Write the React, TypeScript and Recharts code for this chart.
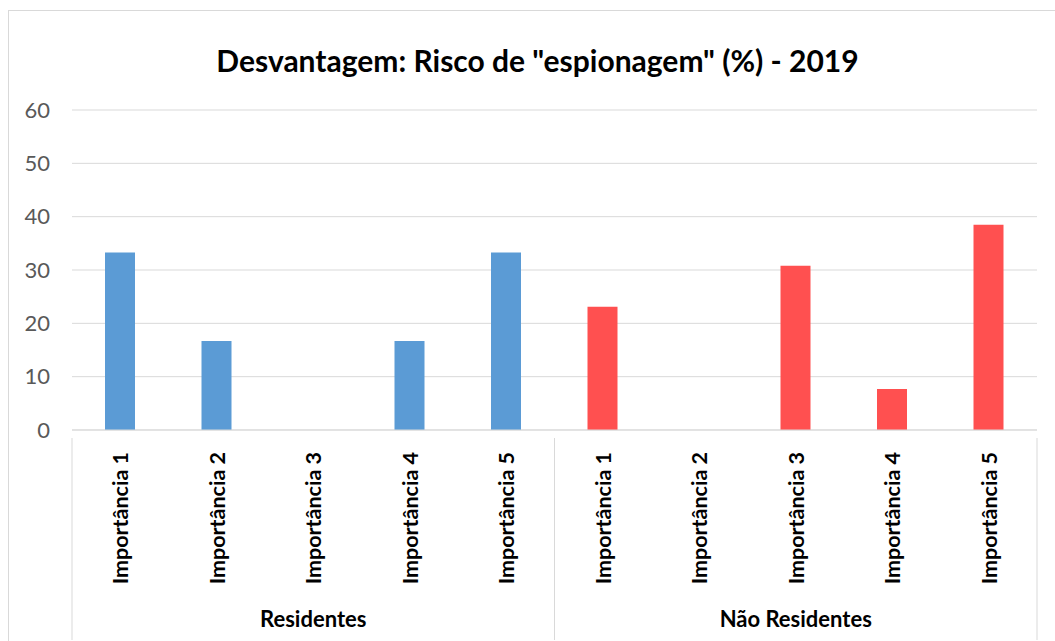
import { BarChart, Bar, XAxis, YAxis, CartesianGrid, Cell } from 'recharts';

const categories = ['Importância 1', 'Importância 2', 'Importância 3', 'Importância 4', 'Importância 5'];
const groups = ['Residentes', 'Não Residentes'];
const residentes = [33.3, 16.7, 0, 16.7, 33.3];
const naoResidentes = [23.1, 0, 30.8, 7.7, 38.5];
const yTicks = [0, 10, 20, 30, 40, 50, 60];
const groupColors = ['#5B9BD5', '#FF5050'];

const data = groups.flatMap((g, gi) =>
  categories.map((c, ci) => ({
    key: `${g}|${c}`,
    label: c,
    group: g,
    groupIndex: gi,
    value: (gi === 0 ? residentes : naoResidentes)[ci],
  }))
);

const FONT = 'Lato, "Liberation Sans", sans-serif';
const PLOT_LEFT = 72;
const PLOT_RIGHT = 1037;
const BAND = (PLOT_RIGHT - PLOT_LEFT) / data.length;

function CategoryTick(props: any) {
  const { x, y, payload } = props;
  const index = payload.index ?? props.index;
  const row = data[index];
  if (!row) return null;
  const pos = index % categories.length;
  return (
    <g>
      <text
        x={x}
        y={y + 14}
        transform={`rotate(-90, ${x}, ${y + 14})`}
        textAnchor="end"
        dominantBaseline="central"
        fontFamily={FONT}
        fontWeight="bold"
        fontSize={21.5}
        fill="#000"
      >
        {row.label}
      </text>
      {pos === 0 && (
        <line x1={x - BAND / 2} x2={x - BAND / 2} y1={y} y2={y + 202} stroke="#d9d9d9" />
      )}
      {index === data.length - 1 && (
        <line x1={x + BAND / 2} x2={x + BAND / 2} y1={y} y2={y + 202} stroke="#d9d9d9" />
      )}
      {pos === 2 && (
        <text
          x={x}
          y={y + 189}
          textAnchor="middle"
          fontFamily={FONT}
          fontWeight="bold"
          fontSize={22}
          fill="#000"
        >
          {row.group}
        </text>
      )}
    </g>
  );
}

export default function App() {
  return (
    <div style={{ position: 'absolute', left: 0, top: 0, width: 1055, height: 641, overflow: 'hidden', background: '#fff' }}>
      <div
        style={{
          position: 'absolute',
          left: 8,
          top: 10,
          width: 1070,
          height: 660,
          border: '1px solid #d9d9d9',
        }}
      />
      <div
        style={{
          position: 'absolute',
          left: 0,
          top: 40,
          width: 1075,
          textAlign: 'center',
          fontFamily: FONT,
          fontWeight: 'bold',
          fontSize: 30,
          lineHeight: '40px',
          color: '#000',
        }}
      >
        Desvantagem: Risco de "espionagem" (%) - 2019
      </div>
      <div style={{ position: 'absolute', left: 0, top: 0 }}>
        <BarChart
          width={1055}
          height={641}
          data={data}
          margin={{ top: 110, right: 1055 - PLOT_RIGHT, left: 0, bottom: 0 }}
          barCategoryGap={0}
        >
          <CartesianGrid vertical={false} stroke="#d9d9d9" />
          <XAxis
            dataKey="key"
            interval={0}
            height={211}
            axisLine={{ stroke: '#d9d9d9' }}
            tickLine={false}
            tick={<CategoryTick />}
          />
          <YAxis
            width={PLOT_LEFT}
            domain={[0, 60]}
            ticks={yTicks}
            axisLine={false}
            tickLine={false}
            tick={{ fill: '#595959', fontSize: 22, fontFamily: FONT }}
            tickMargin={16}
          />
          <Bar dataKey="value" barSize={30} isAnimationActive={false}>
            {data.map((d) => (
              <Cell key={d.key} fill={groupColors[d.groupIndex]} />
            ))}
          </Bar>
        </BarChart>
      </div>
    </div>
  );
}
